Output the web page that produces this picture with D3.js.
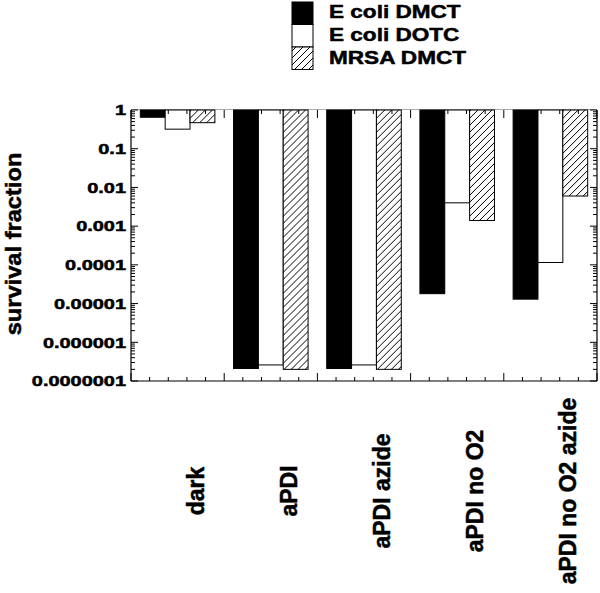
<!DOCTYPE html>
<html>
<head>
<meta charset="utf-8">
<script src="https://cdn.jsdelivr.net/npm/d3@7"></script>
<style>
  body { margin: 0; background: #fff; }
  text { font-family: "Liberation Sans", Arial, sans-serif; font-weight: bold; fill: #000; stroke: #000; stroke-width: 0.5px; }
</style>
</head>
<body>
<svg id="chart" width="600" height="593"></svg>
<script>
// data
const categories = ["dark", "aPDI", "aPDI azide", "aPDI no O2", "aPDI no O2 azide"];
const seriesNames = ["E coli DMCT", "E coli DOTC", "MRSA DMCT"];
const ecoliDMCT = [0.65, 2.1e-7, 2.1e-7, 1.8e-5, 1.3e-5];
const ecoliDOTC = [0.32, 2.6e-7, 2.6e-7, 4.0e-3, 1.15e-4];
const mrsaDMCT = [0.47, 2.0e-7, 2.0e-7, 1.4e-3, 6.0e-3];
const yTickValues = [1, 0.1, 0.01, 0.001, 0.0001, 0.00001, 0.000001, 0.0000001];
const yTickLabels = ["1", "0.1", "0.01", "0.001", "0.0001", "0.00001", "0.000001", "0.0000001"];

const seriesValues = [ecoliDMCT, ecoliDOTC, mrsaDMCT];
const svg = d3.select("#chart");
const plotLeft = 131, plotRight = 597, plotTop = 110, plotBottom = 381;

const x = d3.scaleBand()
    .domain(categories)
    .range([plotLeft, plotRight])
    .paddingInner(0.2)
    .paddingOuter(0.1);
const xs = d3.scaleBand()
    .domain(seriesNames)
    .range([0, x.bandwidth()]);
const y = d3.scaleLog()
    .domain([1e-7, 1])
    .range([plotBottom, plotTop]);
const groupPos = d3.scaleLinear()
    .domain([0, categories.length])
    .range([plotLeft, plotRight]);

// hatch pattern
const pat = svg.append("defs").append("pattern")
    .attr("id", "hatch")
    .attr("patternUnits", "userSpaceOnUse")
    .attr("width", 7)
    .attr("height", 7);
pat.append("rect").attr("width", 7).attr("height", 7).attr("fill", "#fff");
pat.append("path")
    .attr("d", "M0,7 L7,0 M-1,1 L1,-1 M6,8 L8,6")
    .attr("stroke", "#000")
    .attr("stroke-width", 1);

const fills = {
    "E coli DMCT": "#000",
    "E coli DOTC": "#fff",
    "MRSA DMCT": "url(#hatch)"
};

// frame
svg.append("line")
    .attr("x1", plotLeft).attr("x2", plotRight)
    .attr("y1", plotTop - 0.5).attr("y2", plotTop - 0.5)
    .attr("stroke", "#aaa");

// bars
const rows = categories.map((c, i) => seriesNames.map((s, j) => ({ cat: c, series: s, value: seriesValues[j][i] })));
svg.append("g")
    .selectAll("g")
    .data(rows)
    .join("g")
    .attr("transform", d => `translate(${x(d[0].cat)},0)`)
    .selectAll("rect")
    .data(d => d)
    .join("rect")
    .attr("x", d => xs(d.series))
    .attr("y", y(1))
    .attr("width", xs.bandwidth())
    .attr("height", d => y(d.value) - y(1))
    .attr("fill", d => fills[d.series])
    .attr("stroke", "#000")
    .attr("stroke-width", 1);

const axes = svg.append("g").attr("stroke", "#000").attr("stroke-width", 1.2);
axes.append("line").attr("x1", plotLeft).attr("x2", plotLeft).attr("y1", plotTop).attr("y2", plotBottom);
axes.append("line").attr("x1", plotRight).attr("x2", plotRight).attr("y1", plotTop).attr("y2", plotBottom);
axes.append("line").attr("x1", plotLeft).attr("x2", plotRight).attr("y1", plotBottom).attr("y2", plotBottom);

// y ticks (left and right, pointing inward)
const yTicks = y.ticks();
const isMajor = v => Math.abs(Math.log10(v) - Math.round(Math.log10(v))) < 1e-6;
axes.selectAll(".ytl")
    .data(yTicks)
    .join("line")
    .attr("x1", plotLeft)
    .attr("x2", d => plotLeft + (isMajor(d) ? 7 : 4))
    .attr("y1", d => y(d))
    .attr("y2", d => y(d))
    .attr("stroke-width", 1);
axes.selectAll(".ytr")
    .data(yTicks)
    .join("line")
    .attr("x1", plotRight)
    .attr("x2", d => plotRight - (isMajor(d) ? 7 : 4))
    .attr("y1", d => y(d))
    .attr("y2", d => y(d))
    .attr("stroke-width", 1);

// x ticks (bottom and top, pointing inward)
const xTicks = d3.range(0, categories.length + 0.001, 0.2);
const xMajor = v => Math.abs(v - Math.round(v)) < 1e-6;
axes.selectAll(".xtb")
    .data(xTicks)
    .join("line")
    .attr("x1", d => groupPos(d))
    .attr("x2", d => groupPos(d))
    .attr("y1", plotBottom)
    .attr("y2", d => plotBottom - (xMajor(d) ? 8 : 4))
    .attr("stroke-width", 1);
axes.selectAll(".xtt")
    .data(xTicks)
    .join("line")
    .attr("x1", d => groupPos(d))
    .attr("x2", d => groupPos(d))
    .attr("y1", plotTop)
    .attr("y2", d => plotTop + (xMajor(d) ? 8 : 4))
    .attr("stroke-width", 1);

// y tick labels
svg.append("g")
    .selectAll("text")
    .data(yTickValues)
    .join("text")
    .attr("transform", d => `translate(126,${y(d)}) scale(1.33,1)`)
    .attr("text-anchor", "end")
    .attr("dy", "0.35em")
    .style("font-size", "15px")
    .text((d, i) => yTickLabels[i]);

// y title
svg.append("text")
    .attr("transform", "translate(20.5,244) rotate(-90) scale(1.1,1)")
    .attr("text-anchor", "middle")
    .style("font-size", "21.5px")
    .text("survival fraction");

// x labels
svg.append("g")
    .selectAll("text")
    .data(categories)
    .join("text")
    .attr("transform", d => `translate(${x(d) + x.bandwidth() / 2 + 26},491) rotate(-90)`)
    .attr("text-anchor", "middle")
    .style("font-size", "23px")
    .text(d => d);

// legend
const legend = svg.append("g");
legend.selectAll("rect")
    .data(seriesNames)
    .join("rect")
    .attr("x", 292)
    .attr("y", (d, i) => 2 + i * 22.5)
    .attr("width", 21)
    .attr("height", 22.5)
    .attr("fill", d => fills[d])
    .attr("stroke", "#000");
legend.selectAll("text")
    .data(seriesNames)
    .join("text")
    .attr("transform", (d, i) => `translate(329,${17.5 + i * 23.3}) scale(1.22,1)`)
    .style("font-size", "18.5px")
    .text(d => d);
</script>
</body>
</html>
